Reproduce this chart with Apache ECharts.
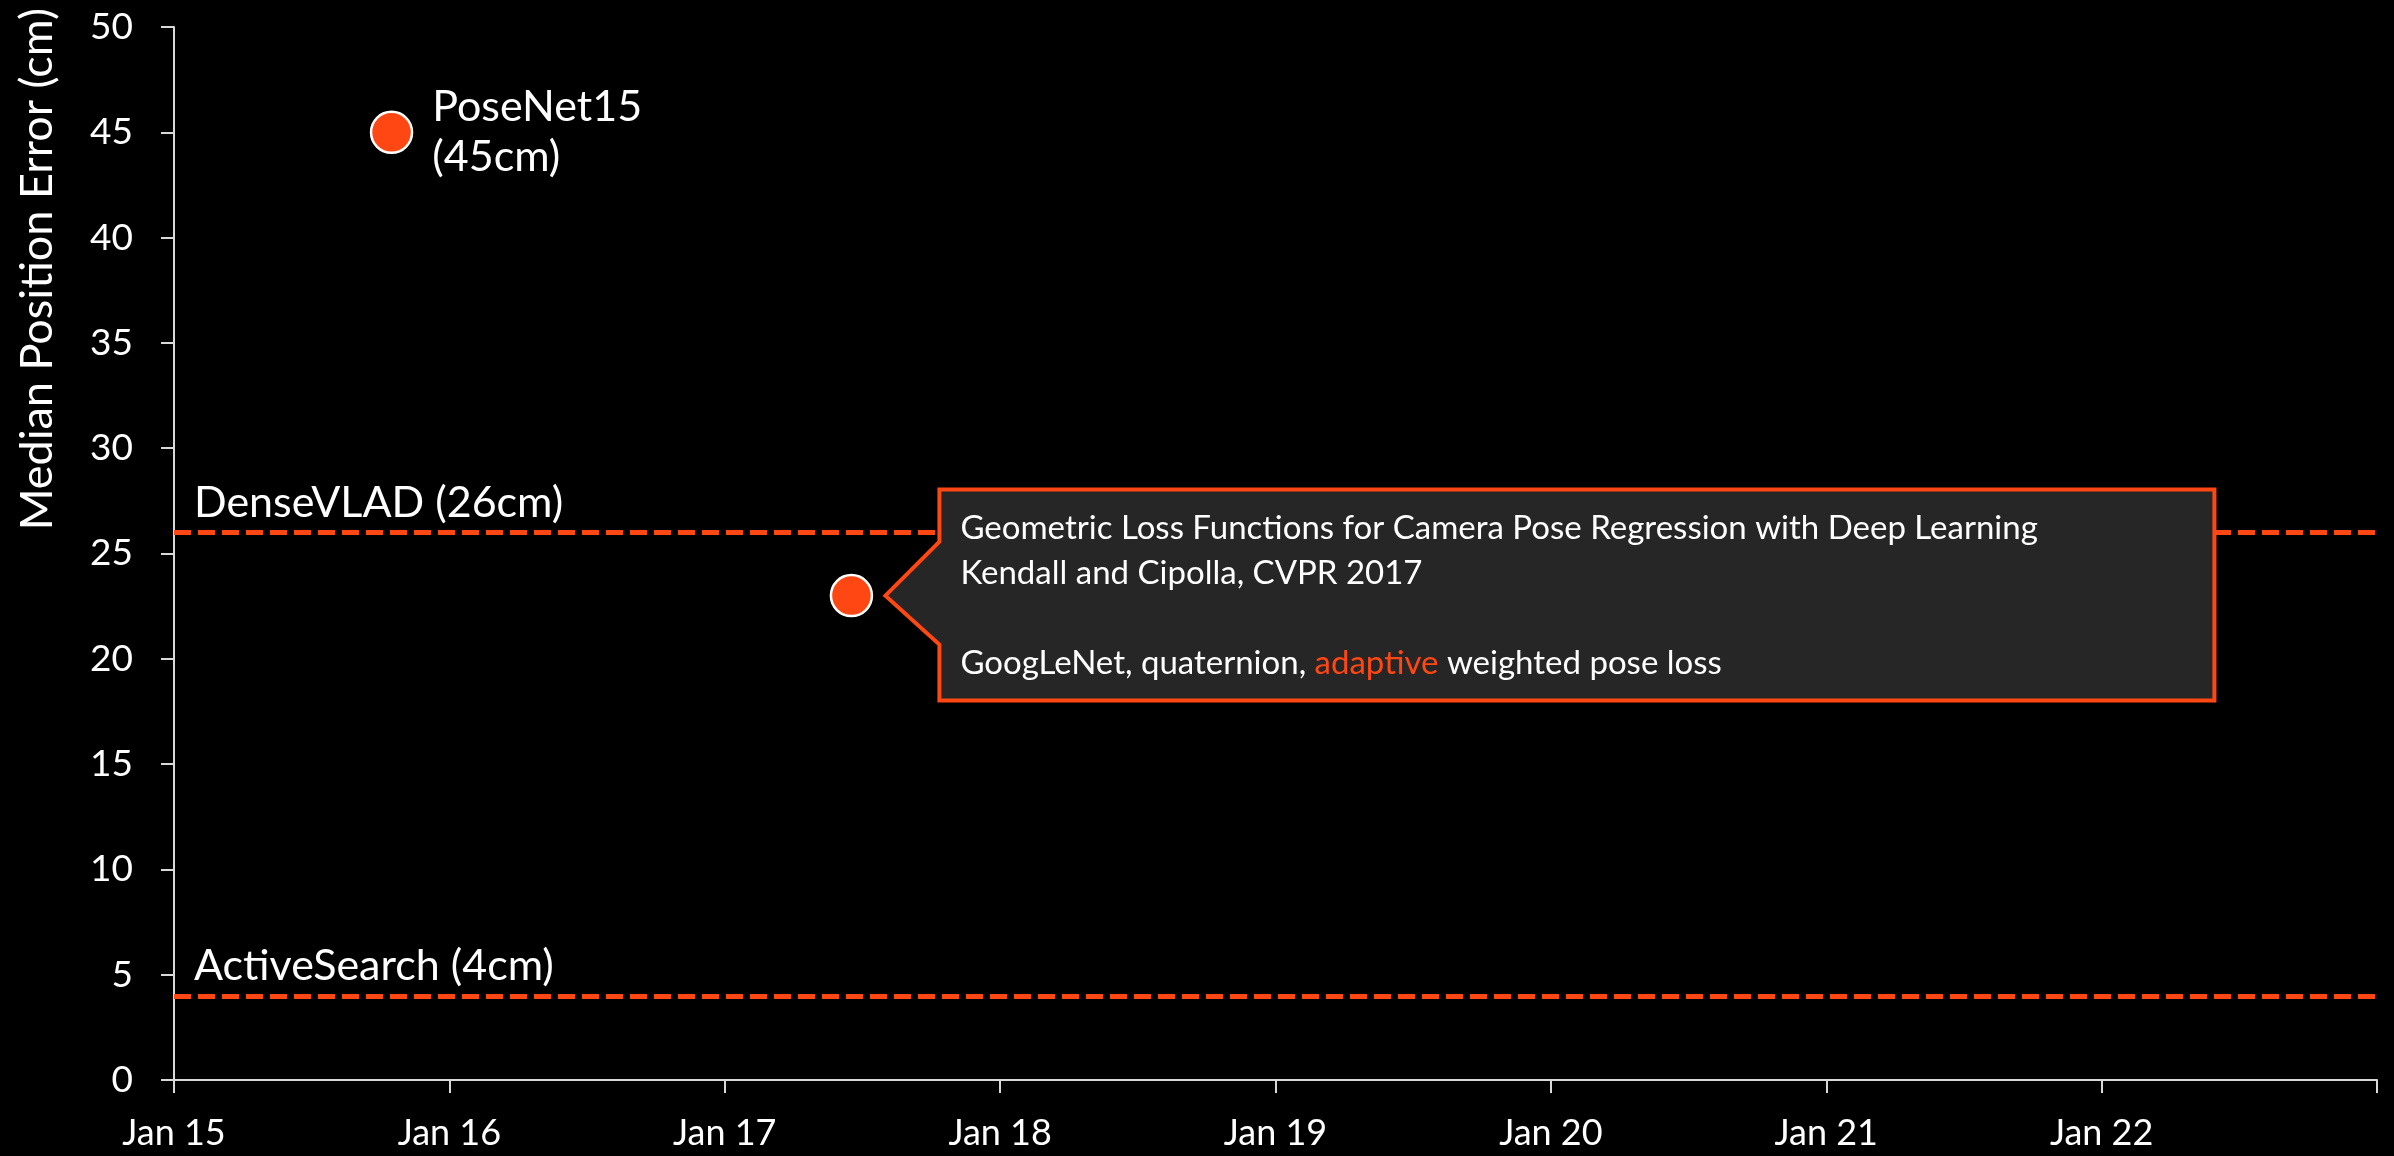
<!DOCTYPE html>
<html>
<head>
<meta charset="utf-8">
<title>Median Position Error over time</title>
<script src="https://cdn.jsdelivr.net/npm/echarts@6/dist/echarts.min.js"></script>
<style>
  html, body { margin: 0; padding: 0; background: #000; }
  #chart { width: 2394px; height: 1156px; }
</style>
</head>
<body>
<div id="chart"></div>
<script>
// Methods plotted as points: publication date (decimal year) and median error (cm)
const methodNames = ['PoseNet15', 'Geometric Loss'];
const methodDates = [2015.79, 2017.46];
const methodErrors = [45, 23];

// Reference methods drawn as horizontal dashed lines
const baselineNames = ['DenseVLAD', 'ActiveSearch'];
const baselineErrors = [26, 4];

// Axis tick labels, one per January from 2015
const xTickLabels = ['Jan 15', 'Jan 16', 'Jan 17', 'Jan 18', 'Jan 19', 'Jan 20', 'Jan 21', 'Jan 22'];

// Callout text for the second method
const calloutTitle = 'Geometric Loss Functions for Camera Pose Regression with Deep Learning';
const calloutAuthors = 'Kendall and Cipolla, CVPR 2017';
const calloutParts = ['GoogLeNet, quaternion, ', 'adaptive', ' weighted pose loss'];

const ORANGE = '#FF4713';
const FONT = 'Lato';

const chart = echarts.init(document.getElementById('chart'));

const points = methodNames.map((n, i) => ({ name: n, value: [methodDates[i], methodErrors[i]] }));

const option = {
  backgroundColor: '#000000',
  animation: false,
  grid: { left: 174, right: 17, top: 27, bottom: 76 },
  xAxis: {
    type: 'value',
    min: 2015,
    max: 2023,
    interval: 1,
    axisLine: { show: true, lineStyle: { color: '#D9D9D9', width: 2 } },
    axisTick: { show: true, length: 13, lineStyle: { color: '#D9D9D9', width: 2 } },
    splitLine: { show: false },
    axisLabel: {
      color: '#FFFFFF',
      fontFamily: FONT,
      fontSize: 36,
      margin: 35,
      formatter: v => xTickLabels[Math.round(v - 2015)] || ''
    }
  },
  yAxis: {
    type: 'value',
    min: 0,
    max: 50,
    interval: 5,
    axisLine: { show: true, lineStyle: { color: '#D9D9D9', width: 2 } },
    axisTick: { show: true, length: 13, lineStyle: { color: '#D9D9D9', width: 2 } },
    splitLine: { show: false },
    axisLabel: { color: '#FFFFFF', fontFamily: FONT, fontSize: 37, margin: 41 }
  },
  graphic: [{
    type: 'text',
    x: 37,
    y: 8,
    rotation: Math.PI / 2,
    style: {
      text: 'Median Position Error (cm)',
      fill: '#FFFFFF',
      font: '45px ' + FONT,
      textAlign: 'right',
      textVerticalAlign: 'middle'
    }
  }],
  series: [
    {
      type: 'scatter',
      z: 3,
      symbol: 'circle',
      symbolSize: 41,
      itemStyle: { color: ORANGE, borderColor: '#FFFFFF', borderWidth: 2.5, opacity: 1 },
      data: points.map((p, i) => ({
        name: p.name,
        value: p.value,
        label: {
          show: i === 0,
          position: 'right',
          distance: 19,
          color: '#FFFFFF',
          fontFamily: FONT,
          fontSize: 43,
          lineHeight: 50,
          formatter: d => d.name + '\n(' + d.value[1] + 'cm)'
        }
      })),
      markLine: {
        silent: true,
        symbol: 'none',
        animation: false,
        lineStyle: { color: ORANGE, width: 5, type: [17, 7], opacity: 1 },
        label: {
          show: true,
          position: 'insideStartTop',
          distance: [20, 8],
          color: '#FFFFFF',
          fontFamily: FONT,
          fontSize: 43,
          formatter: p => p.name + ' (' + p.value + 'cm)'
        },
        data: baselineNames.map((n, i) => ({ name: n, yAxis: baselineErrors[i] }))
      }
    },
    {
      // Callout box with arrow pointing at the second method
      type: 'custom',
      z: 5,
      silent: true,
      data: [[methodDates[1], methodErrors[1]]],
      renderItem: (params, api) => {
        const pt = api.coord([api.value(0), api.value(1)]);
        const cx = pt[0], cy = pt[1];
        const tipX = cx + 34;
        const left = cx + 88;
        const right = cx + 1363;
        const top = cy - 106;
        const bottom = cy + 105;
        return {
          type: 'group',
          children: [
            {
              type: 'polygon',
              shape: {
                points: [
                  [tipX, cy], [left, cy - 54], [left, top], [right, top],
                  [right, bottom], [left, bottom], [left, cy + 49]
                ]
              },
              style: { fill: '#262626', stroke: ORANGE, lineWidth: 4, lineJoin: 'miter' }
            },
            {
              type: 'text',
              x: left + 21,
              y: top + 16,
              style: {
                text: '{t|' + calloutTitle + '}\n{t|' + calloutAuthors + '}\n{t| }\n{t|' +
                      calloutParts[0] + '}{h|' + calloutParts[1] + '}{t|' + calloutParts[2] + '}',
                fill: '#FFFFFF',
                fontFamily: FONT,
                fontSize: 33,
                lineHeight: 45,
                textAlign: 'left',
                textVerticalAlign: 'top',
                rich: {
                  t: { fill: '#FFFFFF', fontFamily: FONT, fontSize: 33, lineHeight: 45 },
                  h: { fill: ORANGE, fontFamily: FONT, fontSize: 33, lineHeight: 45 }
                }
              }
            }
          ]
        };
      }
    }
  ]
};

chart.setOption(option);
</script>
</body>
</html>
